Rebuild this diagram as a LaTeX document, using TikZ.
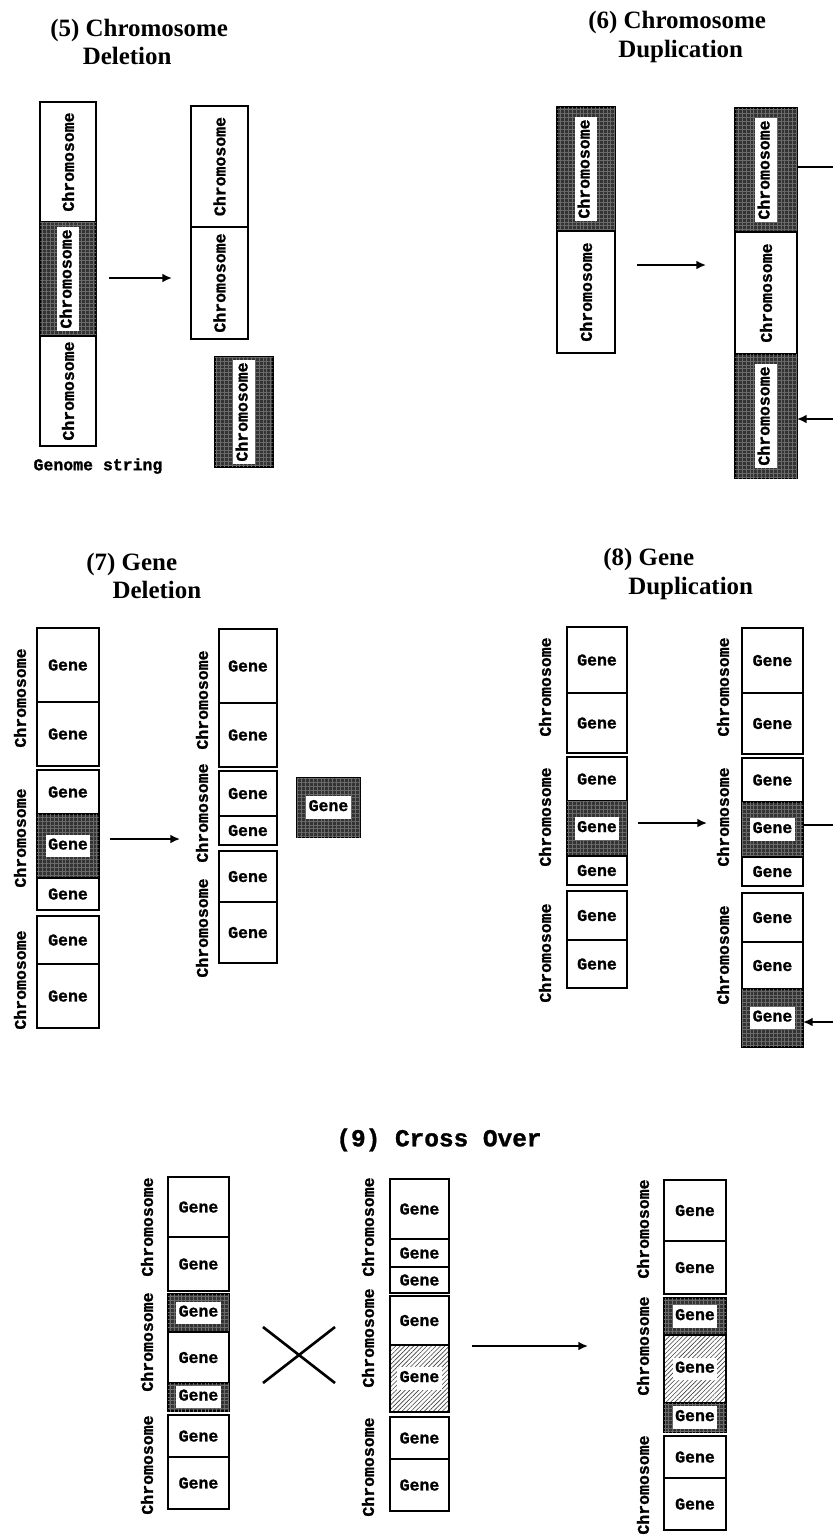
\documentclass[tikz,border=0pt]{standalone}
\usepackage{fontspec}
\setmainfont{Liberation Serif}
\newfontfamily\genefont[BoldFeatures={FakeBold=1.2}]{Liberation Mono}
\usepackage{xcolor}
\usepackage{graphicx}
\usepackage{tikz}
\usetikzlibrary{arrows.meta,patterns.meta}
\colorlet{darkcell}{black!80}
\colorlet{darkgrid}{black!58}
\newcommand{\GeneFont}{\genefont\bfseries\fontsize{9.4}{10}\selectfont}
\newcommand{\TitleFont}{\bfseries\fontsize{14.2}{16.4}\selectfont}
\newcommand{\WhiteTag}[1]{{\setlength{\fboxsep}{1.3pt}\colorbox{white}{\strut#1}}}
\newcommand{\VText}[1]{\rotatebox{90}{#1}}
\def\pxu{0.02cm}
% segment box: style, name, x1, y1, x2, y2, text
\newcommand{\Seg}[7]{%
  \node[#1, minimum width={(#5-#3)*\pxu}, minimum height={(#6-#4)*\pxu}]
    (#2) at ({(#3+#5)/2},{(#4+#6)/2}) {#7};}

\begin{document}
\begin{tikzpicture}[
  x=0.02cm, y=-0.02cm,
  seg/.style={draw, line width=0.85pt, inner sep=0pt, outer sep=0pt, font=\GeneFont},
  cell/.style={seg, fill=white},
  darkcell/.style={seg, fill=darkcell,
    postaction={pattern={Hatch[angle=0,distance=2.2pt,line width=0.3pt]}, pattern color=darkgrid}},
  hatchcell/.style={seg, pattern={Lines[angle=45,distance=1.8pt,line width=0.35pt]}, pattern color=black!75},
  sidelab/.style={rotate=90, inner sep=0pt, font=\GeneFont},
  title/.style={anchor=west, align=left, inner sep=0pt, font=\TitleFont},
  flow/.style={-{Latex[length=5.5pt,width=5pt]}, line width=1pt},
  feed/.style={line width=1pt},
  cross/.style={line width=1.5pt}
]
\useasboundingbox (0,0) rectangle (833,1536);

% ---------- (5) chromosome deletion ----------
\node[title] (t5) at (50,42) {(5) Chromosome\\\hspace*{1.3em}Deletion};
\Seg{cell}{c5a}{40}{102}{96}{222}{\VText{Chromosome}}
\Seg{darkcell}{c5b}{40}{222}{96}{336}{\VText{\WhiteTag{Chromosome}}}
\Seg{cell}{c5c}{40}{336}{96}{446}{\VText{Chromosome}}
\node[font=\GeneFont, inner sep=0pt] (gs5) at (98,466) {Genome string};
\coordinate (a5s) at (109,278);
\coordinate (a5e) at (172,278);
\draw[flow] (a5s) -- (a5e);
\Seg{cell}{d5a}{191}{106}{248}{227}{\VText{Chromosome}}
\Seg{cell}{d5b}{191}{227}{248}{339}{\VText{Chromosome}}
\Seg{darkcell}{d5x}{215}{357}{273}{467}{\VText{\WhiteTag{Chromosome}}}

% ---------- (6) chromosome duplication ----------
\node[title] (t6) at (588,37) {(6) Chromosome\\\hspace*{1.2em}Duplication};
\Seg{darkcell}{e6a}{557}{107}{615}{231}{\VText{\WhiteTag{Chromosome}}}
\Seg{cell}{e6b}{557}{231}{615}{353}{\VText{Chromosome}}
\coordinate (a6s) at (637,265);
\coordinate (a6e) at (706,265);
\draw[flow] (a6s) -- (a6e);
\Seg{darkcell}{f6a}{735}{108}{797}{232}{\VText{\WhiteTag{Chromosome}}}
\Seg{cell}{f6b}{735}{232}{797}{354}{\VText{Chromosome}}
\Seg{darkcell}{f6c}{735}{354}{797}{478}{\VText{\WhiteTag{Chromosome}}}
\coordinate (r6a) at (833,167);
\coordinate (r6b) at (833,419);
\draw[feed] (f6a.east |- r6a) -- (r6a);
\draw[flow] (r6b) -- (f6c.east |- r6b);

% ---------- (7) gene deletion ----------
\node[title] (t7) at (86,576) {(7) Gene\\\hspace*{1.05em}Deletion};
\Seg{cell}{g7a1}{37}{628}{99}{702}{Gene}
\Seg{cell}{g7a2}{37}{702}{99}{766}{Gene}
\Seg{cell}{g7b1}{37}{770}{99}{814}{Gene}
\Seg{darkcell}{g7b2}{37}{814}{99}{878}{\WhiteTag{Gene}}
\Seg{cell}{g7b3}{37}{878}{99}{910}{Gene}
\Seg{cell}{g7c1}{37}{916}{99}{964}{Gene}
\Seg{cell}{g7c2}{37}{964}{99}{1028}{Gene}
\node[sidelab] (s7a) at (20,698) {Chromosome};
\node[sidelab] (s7b) at (20,838) {Chromosome};
\node[sidelab] (s7c) at (20,980) {Chromosome};
\coordinate (a7s) at (110,839);
\coordinate (a7e) at (180,839);
\draw[flow] (a7s) -- (a7e);
\Seg{cell}{h7a1}{219}{629}{277}{703}{Gene}
\Seg{cell}{h7a2}{219}{703}{277}{767}{Gene}
\Seg{cell}{h7b1}{219}{771}{277}{816}{Gene}
\Seg{cell}{h7b2}{219}{816}{277}{845}{Gene}
\Seg{cell}{h7c1}{219}{851}{277}{902}{Gene}
\Seg{cell}{h7c2}{219}{902}{277}{963}{Gene}
\node[sidelab] (s7d) at (202,700) {Chromosome};
\node[sidelab] (s7e) at (202,813) {Chromosome};
\node[sidelab] (s7f) at (202,928) {Chromosome};
\Seg{darkcell}{h7x}{297}{778}{360}{837}{\WhiteTag{Gene}}

% ---------- (8) gene duplication ----------
\node[title] (t8) at (603,574) {(8) Gene\\\hspace*{1em}Duplication};
\Seg{cell}{i8a1}{567}{627}{627}{693}{Gene}
\Seg{cell}{i8a2}{567}{693}{627}{753}{Gene}
\Seg{cell}{i8b1}{567}{757}{627}{801}{Gene}
\Seg{darkcell}{i8b2}{567}{801}{627}{856}{\WhiteTag{Gene}}
\Seg{cell}{i8b3}{567}{856}{627}{885}{Gene}
\Seg{cell}{i8c1}{567}{891}{627}{940}{Gene}
\Seg{cell}{i8c2}{567}{940}{627}{988}{Gene}
\node[sidelab] (s8a) at (545,687) {Chromosome};
\node[sidelab] (s8b) at (545,817) {Chromosome};
\node[sidelab] (s8c) at (545,953) {Chromosome};
\coordinate (a8s) at (638,823);
\coordinate (a8e) at (707,823);
\draw[flow] (a8s) -- (a8e);
\Seg{cell}{j8a1}{742}{628}{803}{693}{Gene}
\Seg{cell}{j8a2}{742}{693}{803}{754}{Gene}
\Seg{cell}{j8b1}{742}{758}{803}{802}{Gene}
\Seg{darkcell}{j8b2}{742}{802}{803}{857}{\WhiteTag{Gene}}
\Seg{cell}{j8b3}{742}{857}{803}{886}{Gene}
\Seg{cell}{j8c1}{742}{893}{803}{942}{Gene}
\Seg{cell}{j8c2}{742}{942}{803}{989}{Gene}
\Seg{darkcell}{j8c3}{742}{989}{803}{1047}{\WhiteTag{Gene}}
\node[sidelab] (s8d) at (723,687) {Chromosome};
\node[sidelab] (s8e) at (723,817) {Chromosome};
\node[sidelab] (s8f) at (723,955) {Chromosome};
\coordinate (r8a) at (833,825);
\coordinate (r8b) at (833,1022);
\draw[feed] (j8b2.east |- r8a) -- (r8a);
\draw[flow] (r8b) -- (j8c3.east |- r8b);

% ---------- (9) cross over ----------
\node[font=\genefont\bfseries\fontsize{13.9}{16}\selectfont, inner sep=0pt] (t9) at (439,1140) {(9) Cross Over};
\Seg{cell}{k9a1}{168}{1177}{229}{1237}{Gene}
\Seg{cell}{k9a2}{168}{1237}{229}{1291}{Gene}
\Seg{darkcell}{k9b1}{168}{1294}{229}{1332}{\WhiteTag{Gene}}
\Seg{cell}{k9b2}{168}{1332}{229}{1383}{Gene}
\Seg{darkcell}{k9b3}{168}{1383}{229}{1411}{\WhiteTag{Gene}}
\Seg{cell}{k9c1}{168}{1415}{229}{1457}{Gene}
\Seg{cell}{k9c2}{168}{1457}{229}{1509}{Gene}
\node[sidelab] (s9a) at (147,1227) {Chromosome};
\node[sidelab] (s9b) at (147,1342) {Chromosome};
\node[sidelab] (s9c) at (147,1465) {Chromosome};
\draw[cross] (263,1327) -- (335,1383);
\draw[cross] (263,1383) -- (335,1327);
\Seg{cell}{m9a1}{390}{1179}{449}{1239}{Gene}
\Seg{cell}{m9a2}{390}{1239}{449}{1267}{Gene}
\Seg{cell}{m9a3}{390}{1267}{449}{1293}{Gene}
\Seg{cell}{m9b1}{390}{1296}{449}{1345}{Gene}
\Seg{hatchcell}{m9b2}{390}{1345}{449}{1412}{\WhiteTag{Gene}}
\Seg{cell}{m9c1}{390}{1417}{449}{1459}{Gene}
\Seg{cell}{m9c2}{390}{1459}{449}{1511}{Gene}
\node[sidelab] (s9d) at (368,1227) {Chromosome};
\node[sidelab] (s9e) at (368,1338) {Chromosome};
\node[sidelab] (s9f) at (368,1467) {Chromosome};
\coordinate (a9s) at (472,1346);
\coordinate (a9e) at (588,1346);
\draw[flow] (a9s) -- (a9e);
\Seg{cell}{n9a1}{664}{1180}{726}{1241}{Gene}
\Seg{cell}{n9a2}{664}{1241}{726}{1294}{Gene}
\Seg{darkcell}{n9b1}{664}{1298}{726}{1335}{\WhiteTag{Gene}}
\Seg{hatchcell}{n9b2}{664}{1335}{726}{1403}{\WhiteTag{Gene}}
\Seg{darkcell}{n9b3}{664}{1403}{726}{1432}{\WhiteTag{Gene}}
\Seg{cell}{n9c1}{664}{1436}{726}{1478}{Gene}
\Seg{cell}{n9c2}{664}{1478}{726}{1530}{Gene}
\node[sidelab] (s9g) at (643,1229) {Chromosome};
\node[sidelab] (s9h) at (643,1346) {Chromosome};
\node[sidelab] (s9i) at (643,1485) {Chromosome};

\end{tikzpicture}
\end{document}
